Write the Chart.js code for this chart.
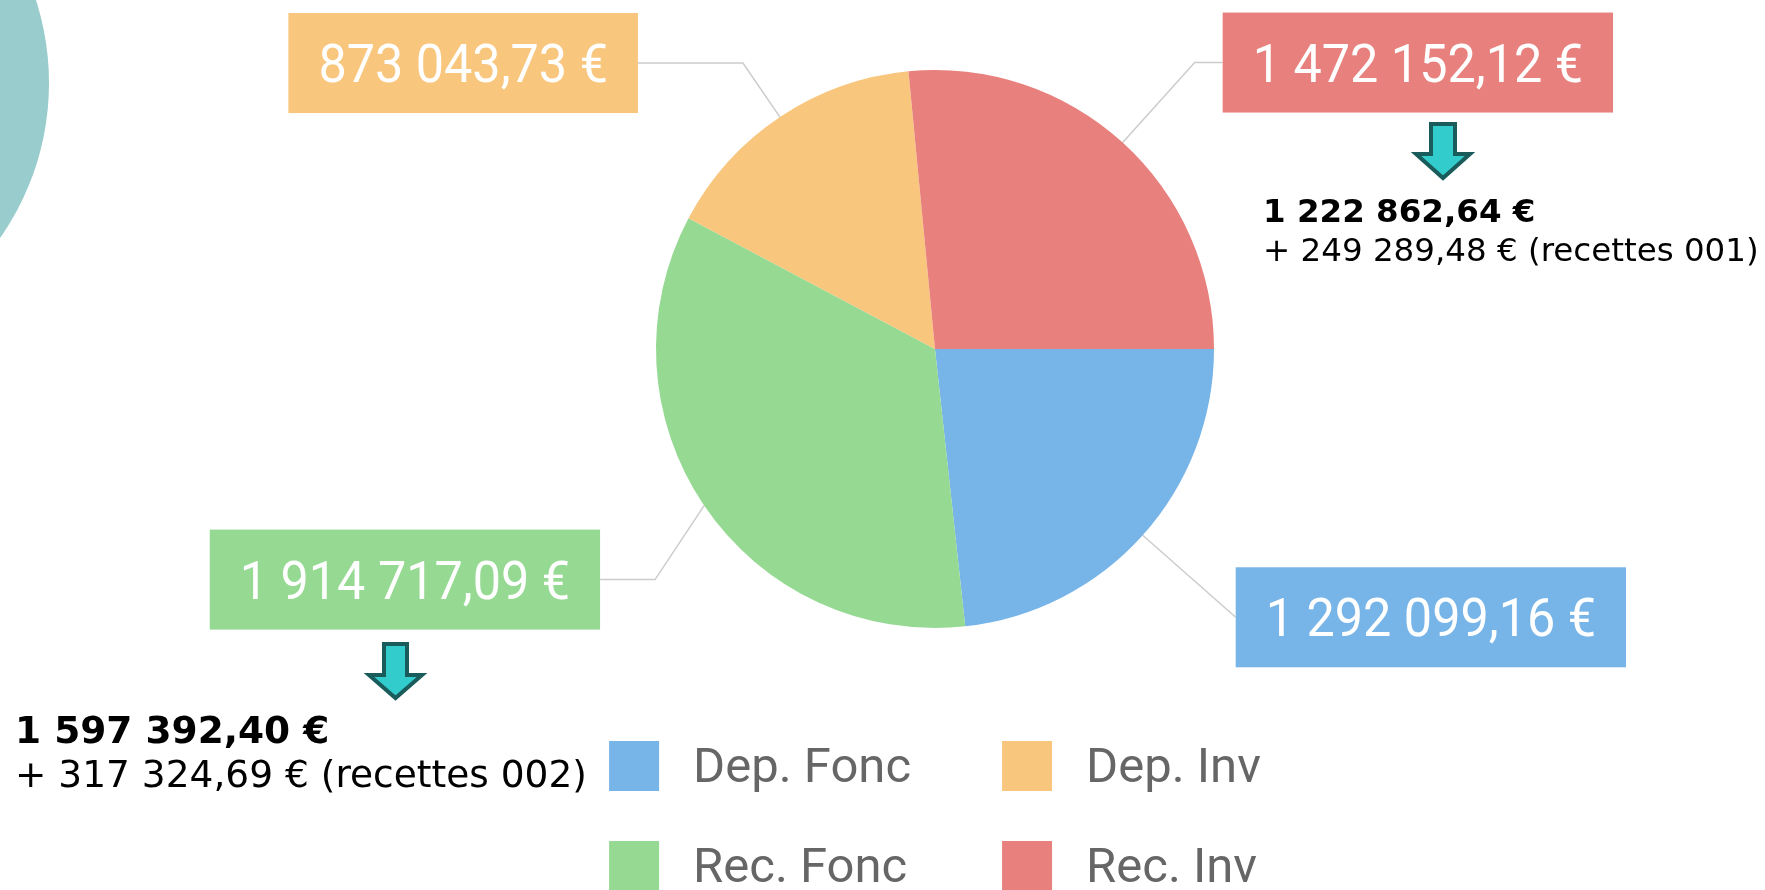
<!DOCTYPE html>
<html>
<head>
<meta charset="utf-8">
<script src="https://cdn.jsdelivr.net/npm/chart.js@4"></script>
<style>
  body { margin: 0; background: #fff; }
  #wrap { position: relative; width: 1765px; height: 890px; overflow: hidden; }
  #chart, #notes { position: absolute; left: 0; top: 0; }
  #notes text { font-family: "DejaVu Sans", Verdana, sans-serif; fill: #000; }
</style>
</head>
<body>
<div id="wrap">
  <canvas id="chart" width="1765" height="890"></canvas>
  <svg id="notes" width="1765" height="890" xmlns="http://www.w3.org/2000/svg">
    <circle cx="-221" cy="83" r="270" fill="#99cccc"/>
    <path d="M1431,124 H1455 V154 H1470 L1443,178 L1416,154 H1431 Z" fill="#33cccc" stroke="#1a5c5c" stroke-width="4"/>
    <path d="M384,644 H407 V675 H422 L395.5,698 L369,675 H384 Z" fill="#33cccc" stroke="#1a5c5c" stroke-width="4"/>
    <g id="splits"></g>
  </svg>
</div>
<script>
// slice data (clockwise from 3 o'clock)
const categories = ['Dep. Fonc', 'Rec. Fonc', 'Dep. Inv', 'Rec. Inv'];
const amounts = [1292099.16, 1914717.09, 873043.73, 1472152.12];
const sliceColors = ['#77b4e8', '#96d993', '#f8c67d', '#e8817d'];

// breakdown of the two "recettes" slices
const splitBase = [1597392.40, 1222862.64];
const splitCarry = [317324.69, 249289.48];
const splitTag = ['recettes 002', 'recettes 001'];

function euro(v) {
  const parts = v.toFixed(2).split('.');
  return parts[0].replace(/\B(?=(\d{3})+(?!\d))/g, ' ') + ',' + parts[1] + ' €';
}

// text under the arrows
const notePos = [
  {x: 15, y1: 743, y2: 787, size: 37.5},
  {x: 1263, y1: 222, y2: 261, size: 32.5}
];
const g = document.getElementById('splits');
notePos.forEach((p, i) => {
  const t1 = document.createElementNS('http://www.w3.org/2000/svg', 'text');
  t1.setAttribute('x', p.x); t1.setAttribute('y', p.y1);
  t1.setAttribute('font-size', p.size); t1.setAttribute('font-weight', 'bold');
  t1.textContent = euro(splitBase[i]);
  const t2 = document.createElementNS('http://www.w3.org/2000/svg', 'text');
  t2.setAttribute('x', p.x); t2.setAttribute('y', p.y2);
  t2.setAttribute('font-size', p.size);
  t2.textContent = '+ ' + euro(splitCarry[i]) + ' (' + splitTag[i] + ')';
  g.appendChild(t1); g.appendChild(t2);
});

// label boxes outside the pie, linked by a leader line
const labelLayout = [
  {dx: 93, dy: 82, run: 0},
  {dx: -49, dy: 74, run: 55},
  {dx: -37, dy: -54, run: 105},
  {dx: 72, dy: -80, run: 28}
];

const outLabels = {
  id: 'outLabels',
  afterDatasetsDraw(chart) {
    const ctx = chart.ctx;
    const meta = chart.getDatasetMeta(0);
    const ds = chart.data.datasets[0];
    const sx = 0.95, pad = 30, h = 100;
    meta.data.forEach((arc, i) => {
      const {x, y, startAngle, endAngle, outerRadius} = arc.getProps(['x', 'y', 'startAngle', 'endAngle', 'outerRadius'], true);
      const mid = (startAngle + endAngle) / 2;
      const ex = x + Math.cos(mid) * outerRadius;
      const ey = y + Math.sin(mid) * outerRadius;
      const L = labelLayout[i];
      const side = L.dx >= 0 ? 1 : -1;
      const kx = ex + L.dx, ky = ey + L.dy;
      const endX = kx + side * L.run;

      ctx.save();
      ctx.strokeStyle = 'rgba(170,170,170,0.6)';
      ctx.lineWidth = 1.5;
      ctx.beginPath();
      ctx.moveTo(ex, ey);
      ctx.lineTo(kx, ky);
      ctx.lineTo(endX, ky);
      ctx.stroke();

      const txt = euro(ds.data[i]);
      ctx.font = '53px Roboto';
      const w = ctx.measureText(txt).width * sx;
      const bw = w + pad * 2;
      const left = side > 0 ? endX : endX - bw;
      ctx.fillStyle = ds.backgroundColor[i];
      ctx.fillRect(left, ky - h / 2, bw, h);

      ctx.translate(left + bw / 2, ky + 19);
      ctx.scale(sx, 1);
      ctx.fillStyle = '#fff';
      ctx.textAlign = 'center';
      ctx.textBaseline = 'alphabetic';
      ctx.fillText(txt, 0, 0);
      ctx.restore();
    });
  }
};

// two-column legend under the pie, filled column by column
const gridLegend = {
  id: 'gridLegend',
  afterDraw(chart) {
    const ctx = chart.ctx;
    const area = chart.chartArea;
    const colors = chart.data.datasets[0].backgroundColor;
    const labels = chart.data.labels;
    const box = 50, gap = 34, colGap = 91, rowH = 100;
    ctx.save();
    ctx.font = '49px Roboto';
    const itemW = labels.map(l => box + gap + ctx.measureText(l).width);
    const w0 = Math.max(itemW[0], itemW[1]);
    const w1 = Math.max(itemW[2], itemW[3]);
    const start = (area.left + area.right) / 2 - (w0 + colGap + w1) / 2;
    const top = area.bottom + 113;
    labels.forEach((l, i) => {
      const col = Math.floor(i / 2), row = i % 2;
      const bx = col === 0 ? start : start + w0 + colGap;
      const by = top + row * rowH;
      ctx.fillStyle = colors[i];
      ctx.fillRect(bx, by, box, box);
      ctx.fillStyle = '#666';
      ctx.textBaseline = 'alphabetic';
      ctx.fillText(l, bx + box + gap, by + 41);
    });
    ctx.restore();
  }
};

new Chart(document.getElementById('chart'), {
  type: 'pie',
  data: {
    labels: categories,
    datasets: [{
      data: amounts,
      backgroundColor: sliceColors,
      borderWidth: 0
    }]
  },
  options: {
    responsive: false,
    animation: false,
    rotation: 90,
    layout: {padding: {left: 656, right: 551, top: 70, bottom: 262}},
    plugins: {
      legend: {display: false},
      tooltip: {enabled: false}
    }
  },
  plugins: [outLabels, gridLegend]
});
</script>
</body>
</html>
